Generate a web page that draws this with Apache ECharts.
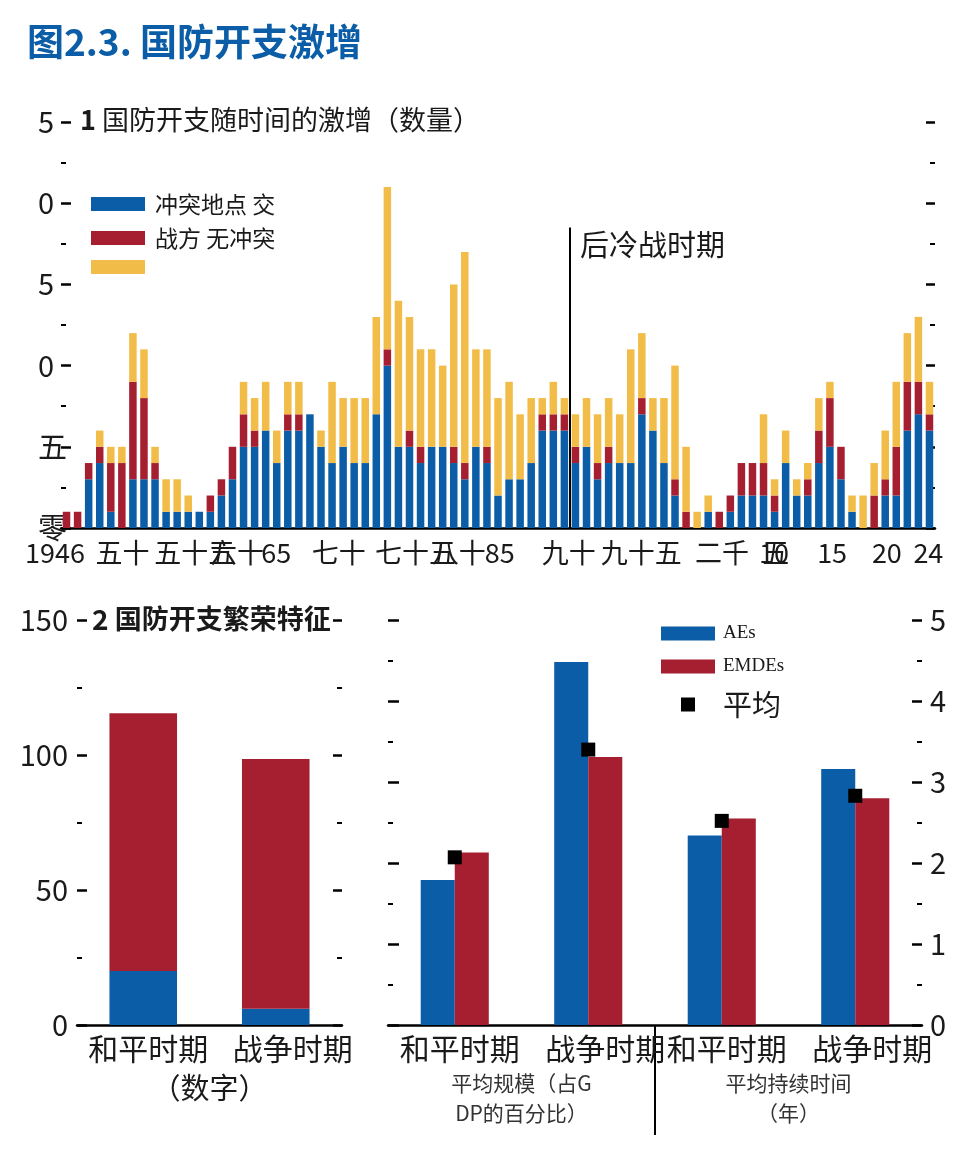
<!DOCTYPE html>
<html>
<head>
<meta charset="utf-8">
<script src="https://cdn.jsdelivr.net/npm/echarts@6/dist/echarts.min.js"></script>
<style>
  html, body { margin: 0; background: #fff; }
  #chart { width: 977px; height: 1152px; }
</style>
</head>
<body>
<div id="chart"></div>
<script>
// panel 1: counts per year
const years = [
  1946, 1947, 1948, 1949, 1950, 1951, 1952, 1953, 1954, 1955,
  1956, 1957, 1958, 1959, 1960, 1961, 1962, 1963, 1964, 1965,
  1966, 1967, 1968, 1969, 1970, 1971, 1972, 1973, 1974, 1975,
  1976, 1977, 1978, 1979, 1980, 1981, 1982, 1983, 1984, 1985,
  1986, 1987, 1988, 1989, 1990, 1991, 1992, 1993, 1994, 1995,
  1996, 1997, 1998, 1999, 2000, 2001, 2002, 2003, 2004, 2005,
  2006, 2007, 2008, 2009, 2010, 2011, 2012, 2013, 2014, 2015,
  2016, 2017, 2018, 2019, 2020, 2021, 2022, 2023, 2024
];
const conflictSite = [
  0, 0, 3, 4, 1, 0, 3, 3, 3, 1,
  1, 1, 1, 1, 2, 3, 5, 5, 6, 4,
  6, 6, 7, 5, 4, 5, 4, 4, 7, 10,
  5, 5, 4, 5, 5, 4, 3, 5, 4, 2,
  3, 3, 4, 6, 6, 6, 4, 5, 3, 4,
  4, 4, 7, 6, 4, 2, 0, 0, 1, 0,
  1, 2, 2, 2, 1, 4, 2, 2, 4, 5,
  3, 1, 0, 0, 2, 2, 6, 7, 6
];
const warParty = [
  1, 1, 1, 1, 3, 4, 6, 5, 1, 0,
  0, 0, 0, 1, 1, 2, 2, 1, 0, 0,
  1, 1, 0, 0, 0, 0, 0, 0, 0, 1,
  0, 1, 1, 0, 0, 1, 1, 0, 1, 0,
  0, 0, 0, 1, 1, 1, 1, 0, 1, 1,
  0, 0, 1, 0, 0, 1, 1, 0, 0, 1,
  1, 2, 2, 2, 1, 0, 0, 1, 2, 3,
  2, 0, 0, 2, 1, 3, 3, 2, 1
];
const noConflict = [
  0, 0, 0, 1, 1, 1, 3, 3, 1, 2,
  2, 1, 0, 0, 0, 0, 2, 2, 3, 2,
  2, 2, 0, 1, 5, 3, 4, 4, 6, 10,
  9, 7, 6, 6, 5, 10, 13, 6, 6, 6,
  6, 4, 4, 1, 2, 1, 2, 3, 3, 3,
  3, 7, 4, 2, 4, 7, 4, 1, 1, 0,
  0, 0, 0, 3, 1, 2, 1, 1, 2, 1,
  0, 1, 2, 2, 3, 4, 3, 4, 2
];
// post-cold-war divider sits between 1991 and 1992
const postColdWarAt = 1991.5;
const postColdWarTop = 18.5;

// tick labels of panel 1 (positions as they sit in the picture)
const yearTickPos = [1945.5, 1951.05, 1957.6, 1961.4, 1964.95, 1970.6, 1977.55, 1981.45, 1985.15,
  1991.4, 1997.95, 2005.25, 2010.1, 2009.95, 2015.2, 2020.15, 2023.9];
const yearTickText = ['1946', '五十', '五十五', '六十', '65', '七十', '七十五', '八十', '85',
  '九十', '九十五', '二千', '五', '10', '15', '20', '24'];
const countTickText = { 0: '零', 5: '五', 10: '0', 15: '5', 20: '0', 25: '5' };

// panel 2
const periods = ['和平时期', '战争时期'];
const boomCountAE = [20, 6];
const boomCountEMDE = [95.5, 92.5];
const boomCats = ['和平时期', '战争时期', '和平时期', '战争时期'];
const boomGroups = ['平均规模（占G\nDP的百分比）', '平均持续时间\n（年）'];
const boomAE = [1.79, 4.48, 2.34, 3.16];
const boomEMDE = [2.13, 3.31, 2.55, 2.80];
const boomAvg = [2.07, 3.40, 2.52, 2.83];

const legendText = { '冲突地点': '冲突地点 交', '交战方': '战方 无冲突', '无冲突': '' };

const BLUE = '#0A5DA6';
const RED = '#A61F30';
const YELLOW = '#F2BC48';
const INK = '#1a1a1a';
const FONT = '"Noto Sans CJK SC", "Noto Sans", sans-serif';

const chart = echarts.init(document.getElementById('chart'));

function ticks(len) {
  return { show: true, inside: true, length: len, lineStyle: { color: '#000', width: 2.5 } };
}
const minor = { show: true, splitNumber: 2, length: 5, lineStyle: { color: '#000', width: 2 } };
const baseLine = { show: true, onZero: false, lineStyle: { color: '#000', width: 2.5 } };

function catLabel(v) {
  return v === '战争时期' ? '{w|' + v + '}' : '{p|' + v + '}';
}
const catRich = {
  w: { fontSize: 30, fontFamily: FONT, color: INK, padding: [0, 0, 0, 34] },
  p: { fontSize: 30, fontFamily: FONT, color: INK, padding: [0, 0, 0, 10] }
};

let option = {
  animation: false,
  backgroundColor: '#fff',
  title: [
    {
      text: '图2.3. 国防开支激增', left: 27, top: 23, padding: 0,
      textStyle: { fontSize: 37, fontWeight: 'bold', color: BLUE, fontFamily: FONT }
    },
    {
      text: '{n|1} 国防开支随时间的激增（数量）', left: 80, top: 106, padding: 0,
      textStyle: {
        fontSize: 27, fontWeight: 'normal', color: INK, fontFamily: FONT,
        rich: { n: { fontSize: 27, fontWeight: 'bold', color: INK, fontFamily: FONT } }
      }
    },
    {
      text: '{n|2} 国防开支繁荣特征', left: 92, top: 605, padding: 0,
      textStyle: {
        fontSize: 27, fontWeight: 'bold', color: INK, fontFamily: FONT,
        rich: { n: { fontSize: 28, fontWeight: 'bold', color: INK, fontFamily: FONT } }
      }
    },
    {
      text: '后冷战时期', left: 580, top: 230, padding: 0,
      textStyle: { fontSize: 29, fontWeight: 'normal', color: INK, fontFamily: FONT }
    }
  ],
  legend: [
    {
      orient: 'vertical', left: 91, top: 192, padding: 0,
      itemWidth: 54, itemHeight: 14, itemGap: 10, icon: 'rect',
      data: ['冲突地点', '交战方', '无冲突'],
      formatter: n => legendText[n],
      textStyle: { fontSize: 23, lineHeight: 24, color: INK, fontFamily: FONT, padding: [0, 0, 0, 5] }
    },
    {
      orient: 'vertical', left: 661, top: 624, padding: 0,
      itemWidth: 54, itemHeight: 14, itemGap: 14,
      data: [
        { name: 'AEs', icon: 'rect', textStyle: { fontSize: 19, fontFamily: '"Liberation Serif", serif', color: INK, padding: [0, 0, 6, 3] } },
        { name: 'EMDEs', icon: 'rect', textStyle: { fontSize: 19, fontFamily: '"Liberation Serif", serif', color: INK, padding: [0, 0, 6, 3] } },
        { name: '平均', icon: 'path://M0,0H10V10H0Z', textStyle: { fontSize: 29, lineHeight: 22, fontFamily: FONT, color: INK, padding: [0, 0, 0, 3] } }
      ]
    }
  ],
  grid: [
    { left: 61, top: 122, width: 874, height: 406, outerBoundsMode: 'none' },
    { left: 77, top: 620, width: 265, height: 405, outerBoundsMode: 'none' },
    { left: 388, top: 620, width: 534, height: 405, outerBoundsMode: 'none' }
  ],
  xAxis: [
    {
      gridIndex: 0, type: 'category', data: years,
      axisLine: baseLine, axisTick: { show: false }, axisLabel: { show: false }
    },
    {
      // same span as the year bands, used for the year labels and the divider
      gridIndex: 0, type: 'value', min: 1945.5, max: 2024.5, position: 'bottom',
      axisLine: { show: false }, axisTick: { show: false }, splitLine: { show: false },
      axisLabel: {
        customValues: yearTickPos, margin: 11, fontSize: 27, color: INK, fontFamily: FONT,
        formatter: v => {
          let best = 0;
          yearTickPos.forEach((p, i) => { if (Math.abs(p - v) < Math.abs(yearTickPos[best] - v)) best = i; });
          return best === 0 ? '{s|' + yearTickText[0] + '}' : yearTickText[best];
        },
        rich: { s: { fontSize: 27, color: INK, fontFamily: FONT, padding: [0, 12, 0, 0] } }
      }
    },
    {
      gridIndex: 1, type: 'category', data: periods, position: 'bottom',
      axisLine: baseLine, axisTick: { show: false },
      axisLabel: { margin: 9, formatter: catLabel, rich: catRich },
      name: '（数字）', nameLocation: 'middle', nameGap: 48,
      nameTextStyle: { fontSize: 29, color: INK, fontFamily: FONT }
    },
    {
      gridIndex: 2, type: 'category', data: boomCats, position: 'bottom',
      axisLine: baseLine, axisTick: { show: false },
      axisLabel: { margin: 9, formatter: catLabel, rich: catRich }
    },
    {
      gridIndex: 2, type: 'category', data: boomGroups, position: 'bottom',
      axisLine: { show: false }, axisTick: { show: false },
      axisLabel: { margin: 43, fontSize: 21, lineHeight: 30, color: '#333', fontFamily: FONT }
    }
  ],
  yAxis: [
    {
      gridIndex: 0, type: 'value', min: 0, max: 25, interval: 5, position: 'left',
      axisLine: { show: false }, axisTick: ticks(10), minorTick: minor, splitLine: { show: false },
      axisLabel: {
        margin: 23, align: 'left', fontSize: 29, color: INK, fontFamily: FONT,
        formatter: v => countTickText[v]
      }
    },
    {
      gridIndex: 0, type: 'value', min: 0, max: 25, interval: 5, position: 'right',
      axisLine: { show: false }, axisTick: ticks(9), minorTick: minor, splitLine: { show: false },
      axisLabel: { show: false }
    },
    {
      gridIndex: 1, type: 'value', min: 0, max: 150, interval: 50, position: 'left',
      axisLine: { show: false }, axisTick: ticks(10), minorTick: minor, splitLine: { show: false },
      axisLabel: { margin: 9, fontSize: 29, color: INK, fontFamily: FONT }
    },
    {
      gridIndex: 1, type: 'value', min: 0, max: 150, interval: 50, position: 'right',
      axisLine: { show: false }, axisTick: ticks(9), minorTick: minor, splitLine: { show: false },
      axisLabel: { show: false }
    },
    {
      gridIndex: 2, type: 'value', min: 0, max: 5, interval: 1, position: 'left',
      axisLine: { show: false }, axisTick: ticks(11), minorTick: minor, splitLine: { show: false },
      axisLabel: { show: false }
    },
    {
      gridIndex: 2, type: 'value', min: 0, max: 5, interval: 1, position: 'right',
      axisLine: { show: false }, axisTick: ticks(10), minorTick: minor, splitLine: { show: false },
      axisLabel: { margin: 8, fontSize: 29, color: INK, fontFamily: FONT }
    }
  ],
  series: [
    {
      name: '冲突地点', type: 'bar', xAxisIndex: 0, yAxisIndex: 0, stack: 'yr',
      barWidth: 7.5, itemStyle: { color: BLUE }, data: conflictSite
    },
    {
      name: '交战方', type: 'bar', xAxisIndex: 0, yAxisIndex: 0, stack: 'yr',
      barWidth: 7.5, itemStyle: { color: RED }, data: warParty
    },
    {
      name: '无冲突', type: 'bar', xAxisIndex: 0, yAxisIndex: 0, stack: 'yr',
      barWidth: 7.5, itemStyle: { color: YELLOW }, data: noConflict
    },
    {
      // carrier for the post-cold-war divider on the numeric year scale
      name: 'divider', type: 'line', xAxisIndex: 1, yAxisIndex: 0,
      showSymbol: false, symbol: 'none', lineStyle: { opacity: 0 },
      data: [[postColdWarAt, 0]],
      markLine: {
        silent: true, symbol: ['none', 'none'], label: { show: false },
        lineStyle: { color: '#000', width: 2, type: 'solid' },
        data: [[{ coord: [postColdWarAt, 0] }, { coord: [postColdWarAt, postColdWarTop] }]]
      }
    },
    {
      name: 'AEs', type: 'bar', xAxisIndex: 2, yAxisIndex: 2, stack: 'n',
      barWidth: '51%', itemStyle: { color: BLUE }, data: boomCountAE
    },
    {
      name: 'EMDEs', type: 'bar', xAxisIndex: 2, yAxisIndex: 2, stack: 'n',
      barWidth: '51%', itemStyle: { color: RED }, data: boomCountEMDE
    },
    {
      name: 'AEs', type: 'bar', xAxisIndex: 3, yAxisIndex: 5,
      barGap: '0%', barCategoryGap: '49%', itemStyle: { color: BLUE }, data: boomAE
    },
    {
      name: 'EMDEs', type: 'bar', xAxisIndex: 3, yAxisIndex: 5,
      barGap: '0%', barCategoryGap: '49%', itemStyle: { color: RED }, data: boomEMDE
    },
    {
      name: '平均', type: 'scatter', xAxisIndex: 3, yAxisIndex: 5,
      symbol: 'rect', symbolSize: 14, itemStyle: { color: '#000', opacity: 1 }, z: 5, data: boomAvg
    }
  ],
  graphic: [
    {
      type: 'line', shape: { x1: 655, y1: 1025, x2: 655, y2: 1135 },
      style: { stroke: '#000', lineWidth: 2 }
    }
  ]
};

option && chart.setOption(option);
</script>
</body>
</html>
